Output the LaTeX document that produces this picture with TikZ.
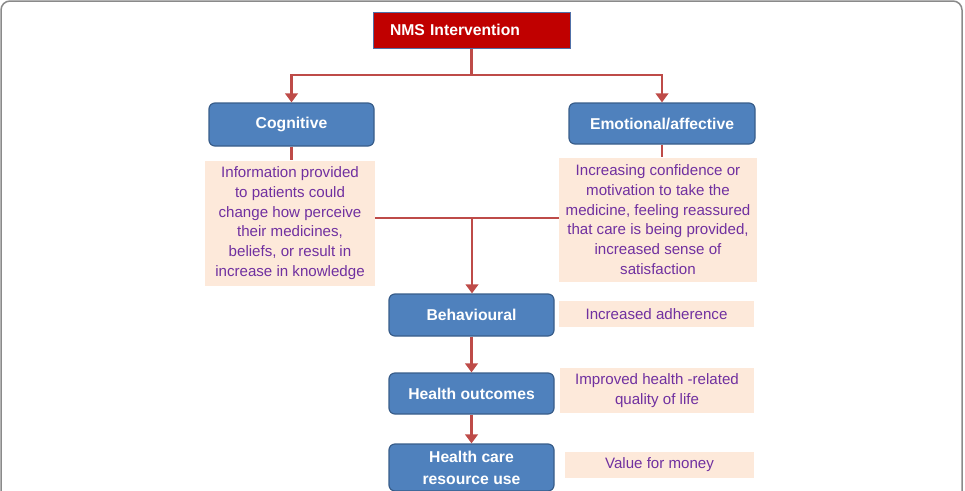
\documentclass[tikz,border=0pt]{standalone}
\usepackage{fontspec}
\setmainfont{Liberation Sans}
\usetikzlibrary{arrows.meta}
\definecolor{boxblue}{HTML}{4F81BD}
\definecolor{boxedge}{HTML}{385D8A}
\definecolor{topred}{HTML}{C00000}
\definecolor{topedge}{HTML}{5070A8}
\definecolor{peach}{HTML}{FDE9DA}
\definecolor{notepurple}{HTML}{7030A0}
\definecolor{linkred}{HTML}{BE4B48}
\definecolor{framegray}{HTML}{8A8A8A}
\tikzset{
  stage/.style={draw=boxedge, line width=1.2pt, fill=boxblue, rounded corners=6pt,
    text=white, font=\fontsize{15.7}{22}\selectfont\bfseries, align=center, inner sep=0pt},
  note/.style={fill=peach, text=notepurple, font=\fontsize{15.1}{19.7}\selectfont,
    align=center, inner sep=0pt},
  link/.style={draw=linkred, line width=2.7pt},
  linkarrow/.style={link, -{Triangle[width=12.5pt,length=9pt]}},
}
\begin{document}
\begin{tikzpicture}[x=1pt,y=-1pt]
\useasboundingbox (0,0) rectangle (965,490);
\clip (0,0) rectangle (965,490);
% outer frame
\draw[framegray, line width=1.5pt, rounded corners=9pt] (1,1) rectangle (962,520);

% top intervention box
\node[draw=topedge, line width=1pt, fill=topred, text=white,
  font=\fontsize{15.7}{20}\selectfont\bfseries, minimum height=36pt,
  text width=163pt, inner xsep=17pt, inner ysep=0pt, align=left] (nms) at (471.5,30) {NMS Intervention};

% mechanism boxes
\node[stage, minimum width=165pt, minimum height=43pt] (cog) at (291.5,124.5) {Cognitive};
\node[stage, minimum width=186pt, minimum height=41pt] (emo) at (662,123.5) {Emotional/affective};

% explanatory notes
\node[note, minimum width=170pt, minimum height=125pt] (cogtxt) at (290,223)
  {Information provided\\to patients could\\change how perceive\\their medicines,\\beliefs, or result in\\increase in knowledge};
\node[note, minimum width=198pt, minimum height=124pt] (emotxt) at (658,219.5)
  {Increasing confidence or\\motivation to take the\\medicine, feeling reassured\\that care is being provided,\\increased sense of\\satisfaction};

% outcome chain
\node[stage, minimum width=165pt, minimum height=42pt] (beh) at (471.5,315) {Behavioural};
\node[stage, minimum width=165pt, minimum height=41pt] (out) at (471.5,393.5) {Health outcomes};
\node[stage, minimum width=165pt, minimum height=47pt] (res) at (471.5,467.5) {Health care\\resource use};

\node[note, minimum width=195pt, minimum height=26pt] (adh) at (656.5,314) {Increased adherence};
\node[note, minimum width=194pt, minimum height=45pt] (qol) at (657,390.5) {Improved health -related\\quality of life};
\node[note, minimum width=189pt, minimum height=26pt] (val) at (659.5,465) {Value for money};

% connectors
\coordinate (split) at (471.5,75);
\coordinate (join) at (472,218);
\draw[link] (nms.south) -- (split);
\draw[linkarrow] (split) -| (cog.north);
\draw[linkarrow] (split) -| (emo.north);
\draw[link] (cog.south) -- (cog.south |- cogtxt.north);
\draw[link] (emo.south) -- (emo.south |- emotxt.north);
\draw[link] (cogtxt.east |- join) -- (emotxt.west |- join);
\draw[linkarrow] (join) -- (join |- beh.north);
\draw[linkarrow] (beh.south) -- (out.north);
\draw[linkarrow] (out.south) -- (res.north);
\end{tikzpicture}
\end{document}
